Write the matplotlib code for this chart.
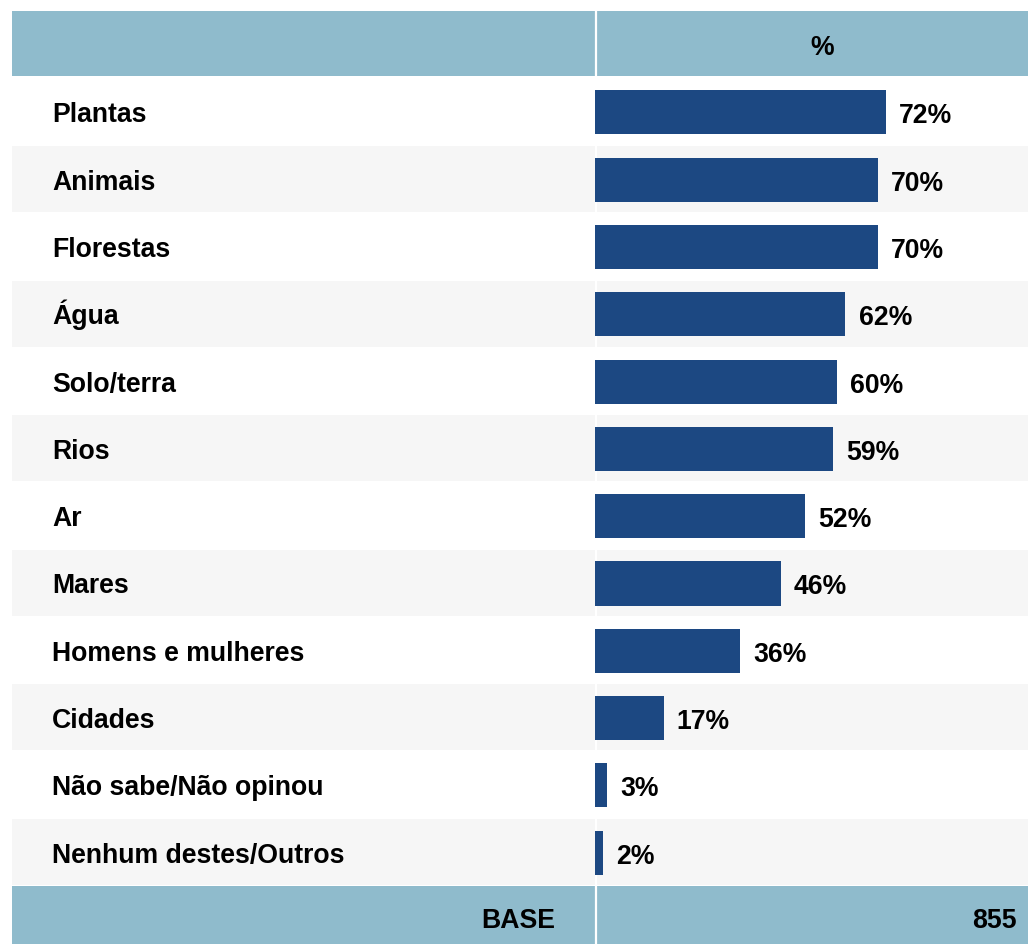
import matplotlib.pyplot as plt
from matplotlib.patches import Rectangle

categories = ['Plantas', 'Animais', 'Florestas', 'Água', 'Solo/terra', 'Rios', 'Ar',
              'Mares', 'Homens e mulheres', 'Cidades', 'Não sabe/Não opinou',
              'Nenhum destes/Outros']
values = [72, 70, 70, 62, 60, 59, 52, 46, 36, 17, 3, 2]
header = '%'
base_label = 'BASE'
base_value = '855'

plt.rcParams['font.family'] = ['Liberation Sans', 'DejaVu Sans']
plt.rcParams['font.weight'] = 'bold'

HEAD = '#8fbbcc'
BAR = '#1c4882'
STRIPE = '#f6f6f6'
FONT = dict(fontweight='bold', fontsize=19.2, color='black')

W, H = 1028, 945
fig = plt.figure(figsize=(W / 100, H / 100), dpi=100)

# background layer in pixel units (y down)
bg = fig.add_axes([0, 0, 1, 1])
bg.set_xlim(0, W)
bg.set_ylim(H, 0)
bg.axis('off')

left, split = 12, 595
top_rows, row_h = 78.7, 67.3
n = len(categories)
rows_bottom = top_rows + row_h * n

# header and base bands
bg.add_patch(Rectangle((left, 12), W - left, 65, color=HEAD, lw=0))
bg.add_patch(Rectangle((left, rows_bottom + 0.7), W - left, H - rows_bottom, color=HEAD, lw=0))
# striped rows
for i in range(n):
    if i % 2 == 1:
        bg.add_patch(Rectangle((left, top_rows + row_h * i + 1), W - left, row_h - 1.3,
                               color=STRIPE, lw=0))
# column divider
bg.plot([split + 1, split + 1], [12, H], color='white', lw=1.6)

bg.text(822, 55, header, ha='center', va='baseline', **FONT)
bg.text(555, 928, base_label, ha='right', va='baseline', **FONT)
bg.text(1017, 928, base_value, ha='right', va='baseline', **FONT)
for i, cat in enumerate(categories):
    bg.text(52, top_rows + row_h * (i + 0.5) + 10, cat, ha='left', va='baseline', **FONT)

# bars
ax = fig.add_axes([split / W, 1 - rows_bottom / H, (W - split) / W, row_h * n / H])
ax.patch.set_alpha(0)
px_per_pct = 4.04
ax.set_xlim(0, (W - split) / px_per_pct)
ax.set_ylim(n - 0.5 - 0.015, -0.5 - 0.015)
ax.axis('off')
ax.barh(range(n), values, height=0.655, color=BAR, lw=0)
for i, v in enumerate(values):
    ax.annotate(f'{v}%', (v, i), xytext=(9.4, -7.2), textcoords='offset points',
                ha='left', va='baseline', **FONT)

fig.savefig('out.png', dpi=100)
